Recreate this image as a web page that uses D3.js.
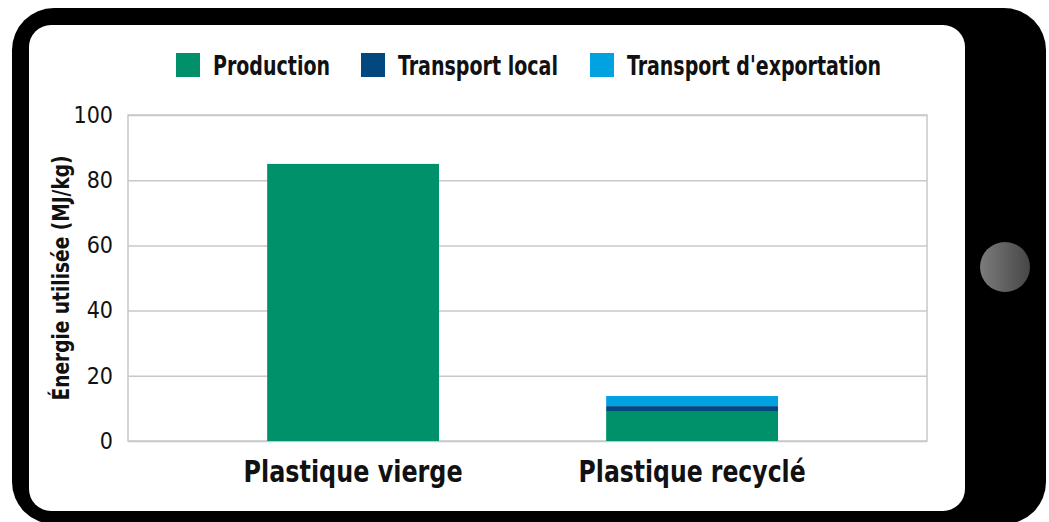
<!DOCTYPE html>
<html>
<head>
<meta charset="utf-8">
<script src="https://cdn.jsdelivr.net/npm/d3@7"></script>
<style>
  body { margin: 0; background: #fff; }
  text { font-family: "DejaVu Sans Condensed", "Liberation Sans Narrow", "Roboto", sans-serif; }
</style>
</head>
<body>
<div id="chart"></div>
<script>
var svgWidth = 1049;
var svgHeight = 522;

// data
var categories = ["Plastique vierge", "Plastique recyclé"];
var seriesNames = ["Production", "Transport local", "Transport d'exportation"];
var production = [85, 9.2];
var transportLocal = [0, 1.5];
var transportExport = [0, 3.1];
var yTicks = [0, 20, 40, 60, 80, 100];

var colors = ["#00916a", "#03477f", "#00a3e0"];

var margin = { top: 115, left: 128, right: 122, bottom: 81 };
var width = svgWidth - margin.left - margin.right;
var height = svgHeight - margin.top - margin.bottom;

var svg = d3.select("#chart")
  .append("svg")
  .attr("width", svgWidth)
  .attr("height", svgHeight);

// tablet frame
var defs = svg.append("defs");
var grad = defs.append("linearGradient").attr("id", "btn");
grad.append("stop").attr("offset", "0%").attr("stop-color", "#7c7c7c");
grad.append("stop").attr("offset", "100%").attr("stop-color", "#464646");

svg.append("rect")
  .attr("x", 12).attr("y", 8)
  .attr("width", 1034).attr("height", 516)
  .attr("rx", 42).attr("ry", 42)
  .attr("fill", "#000");

svg.append("rect")
  .attr("x", 29).attr("y", 25)
  .attr("width", 936).attr("height", 486)
  .attr("rx", 22).attr("ry", 22)
  .attr("fill", "#fff");

svg.append("circle")
  .attr("cx", 1005).attr("cy", 267).attr("r", 25)
  .attr("fill", "url(#btn)");

var chartGroup = svg.append("g")
  .attr("transform", `translate(${margin.left}, ${margin.top})`);

// stack the data
var table = categories.map(function(c, i) {
  return {
    category: c,
    "Production": production[i],
    "Transport local": transportLocal[i],
    "Transport d'exportation": transportExport[i]
  };
});
var stacked = d3.stack().keys(seriesNames)(table);

// scales
var xScale = d3.scaleBand()
  .domain(categories)
  .range([0, width])
  .paddingInner(0.493)
  .paddingOuter(0.425)
  .align(0.483);

var yScale = d3.scaleLinear()
  .domain([0, 100])
  .range([height, 0]);

// gridlines
chartGroup.append("g")
  .attr("class", "grid")
  .call(d3.axisLeft(yScale).tickValues(yTicks).tickSize(-width).tickFormat(""))
  .call(g => g.select(".domain").remove())
  .selectAll("line")
  .attr("stroke", "#c8c8c8")
  .attr("stroke-width", 1.5);

// plot border
chartGroup.append("rect")
  .attr("x", 0).attr("y", 0)
  .attr("width", width).attr("height", height)
  .attr("fill", "none")
  .attr("stroke", "#c8c8c8")
  .attr("stroke-width", 1.5);

// y axis labels
var yAxis = chartGroup.append("g")
  .call(d3.axisLeft(yScale).tickValues(yTicks).tickSize(0).tickPadding(15));
yAxis.select(".domain").remove();
yAxis.selectAll("text")
  .attr("font-size", 23)
  .attr("fill", "#111")
  .style("font-family", "'DejaVu Sans Condensed', 'Liberation Sans Narrow', sans-serif");

// bars
chartGroup.selectAll("g.layer")
  .data(stacked)
  .enter()
  .append("g")
  .attr("class", "layer")
  .attr("fill", (d, i) => colors[i])
  .selectAll("rect")
  .data(d => d)
  .enter()
  .append("rect")
  .attr("x", d => xScale(d.data.category))
  .attr("y", d => yScale(d[1]))
  .attr("width", xScale.bandwidth())
  .attr("height", d => yScale(d[0]) - yScale(d[1]));

// x labels
var catWidths = [219, 227];
chartGroup.selectAll("text.cat")
  .data(categories)
  .enter()
  .append("text")
  .attr("class", "cat")
  .attr("x", d => xScale(d) + xScale.bandwidth() / 2)
  .attr("y", height + 41)
  .attr("text-anchor", "middle")
  .attr("font-size", 31)
  .attr("font-weight", "bold")
  .attr("fill", "#111")
  .attr("textLength", (d, i) => catWidths[i])
  .attr("lengthAdjust", "spacingAndGlyphs")
  .text(d => d);

// y title
chartGroup.append("text")
  .attr("transform", "rotate(-90)")
  .attr("x", 0 - height / 2)
  .attr("y", 0 - margin.left + 69)
  .attr("text-anchor", "middle")
  .attr("font-size", 23)
  .attr("font-weight", "bold")
  .attr("fill", "#111")
  .attr("textLength", 245)
  .attr("lengthAdjust", "spacingAndGlyphs")
  .text("Énergie utilisée (MJ/kg)");

// legend
var legendX = [176, 361, 590];
var legendW = [117, 160, 254];
var legend = svg.append("g").selectAll("g")
  .data(seriesNames)
  .enter()
  .append("g")
  .attr("transform", (d, i) => `translate(${legendX[i]}, 53)`);

legend.append("rect")
  .attr("width", 24).attr("height", 24)
  .attr("fill", (d, i) => colors[i]);

legend.append("text")
  .attr("x", 37)
  .attr("y", 22)
  .attr("font-size", 26)
  .attr("font-weight", "bold")
  .attr("fill", "#111")
  .attr("textLength", (d, i) => legendW[i])
  .attr("lengthAdjust", "spacingAndGlyphs")
  .text(d => d);
</script>
</body>
</html>
